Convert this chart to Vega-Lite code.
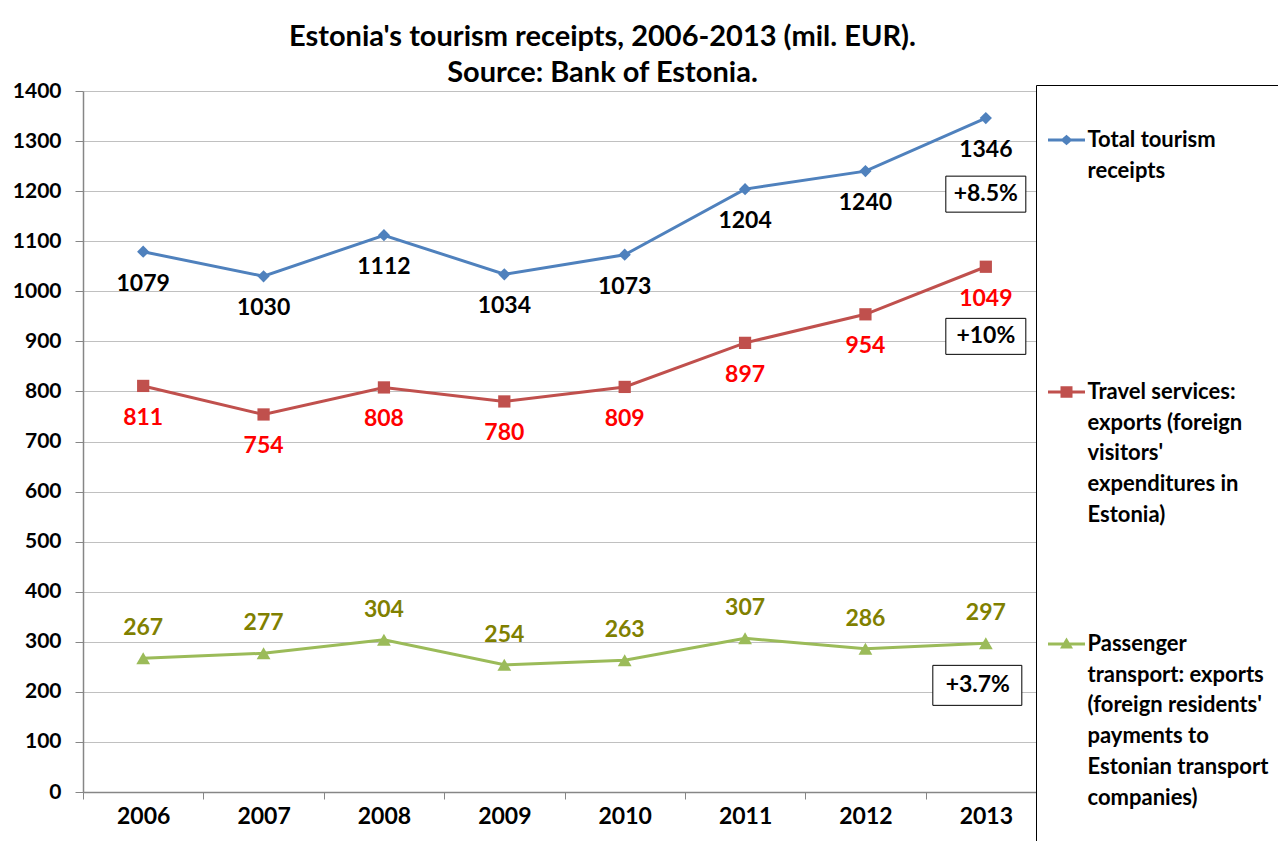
{
  "$schema": "https://vega.github.io/schema/vega-lite/v6.json",
  "width": 963,
  "height": 701,
  "autosize": {"type": "none"},
  "padding": {"left": 83, "top": 91, "right": 232, "bottom": 49},
  "background": "white",
  "config": {
    "font": "Lato",
    "view": {"stroke": null},
    "style": {"guide-label": {"lineHeight": 30.7}}
  },
  "title": {
    "text": ["Estonia's tourism receipts,  2006-2013 (mil. EUR).", "Source: Bank of Estonia."],
    "font": "Lato",
    "fontSize": 29,
    "fontWeight": "bold",
    "color": "black",
    "lineHeight": 36,
    "anchor": "middle",
    "dx": 38,
    "offset": -8
  },
  "data": {
    "values": [
      {"year": "2006", "series": "Total tourism receipts", "value": 1079},
      {"year": "2007", "series": "Total tourism receipts", "value": 1030},
      {"year": "2008", "series": "Total tourism receipts", "value": 1112},
      {"year": "2009", "series": "Total tourism receipts", "value": 1034},
      {"year": "2010", "series": "Total tourism receipts", "value": 1073},
      {"year": "2011", "series": "Total tourism receipts", "value": 1204},
      {"year": "2012", "series": "Total tourism receipts", "value": 1240},
      {"year": "2013", "series": "Total tourism receipts", "value": 1346},
      {"year": "2006", "series": "Travel services: exports (foreign visitors' expenditures in Estonia)", "value": 811},
      {"year": "2007", "series": "Travel services: exports (foreign visitors' expenditures in Estonia)", "value": 754},
      {"year": "2008", "series": "Travel services: exports (foreign visitors' expenditures in Estonia)", "value": 808},
      {"year": "2009", "series": "Travel services: exports (foreign visitors' expenditures in Estonia)", "value": 780},
      {"year": "2010", "series": "Travel services: exports (foreign visitors' expenditures in Estonia)", "value": 809},
      {"year": "2011", "series": "Travel services: exports (foreign visitors' expenditures in Estonia)", "value": 897},
      {"year": "2012", "series": "Travel services: exports (foreign visitors' expenditures in Estonia)", "value": 954},
      {"year": "2013", "series": "Travel services: exports (foreign visitors' expenditures in Estonia)", "value": 1049},
      {"year": "2006", "series": "Passenger transport: exports (foreign residents' payments to Estonian transport companies)", "value": 267},
      {"year": "2007", "series": "Passenger transport: exports (foreign residents' payments to Estonian transport companies)", "value": 277},
      {"year": "2008", "series": "Passenger transport: exports (foreign residents' payments to Estonian transport companies)", "value": 304},
      {"year": "2009", "series": "Passenger transport: exports (foreign residents' payments to Estonian transport companies)", "value": 254},
      {"year": "2010", "series": "Passenger transport: exports (foreign residents' payments to Estonian transport companies)", "value": 263},
      {"year": "2011", "series": "Passenger transport: exports (foreign residents' payments to Estonian transport companies)", "value": 307},
      {"year": "2012", "series": "Passenger transport: exports (foreign residents' payments to Estonian transport companies)", "value": 286},
      {"year": "2013", "series": "Passenger transport: exports (foreign residents' payments to Estonian transport companies)", "value": 297}
    ]
  },
  "encoding": {
    "x": {
      "field": "year",
      "type": "ordinal",
      "scale": {"type": "band", "paddingInner": 0, "paddingOuter": 0},
      "axis": {
        "title": null,
        "labelAngle": 0,
        "labelFont": "Lato",
        "labelFontSize": 23,
        "labelFontWeight": "bold",
        "labelColor": "black",
        "tickBand": "extent",
        "tickSize": 7,
        "tickColor": "#868686",
        "domainColor": "#868686",
        "domainWidth": 1.5,
        "labelPadding": 6,
        "grid": false
      }
    },
    "y": {
      "field": "value",
      "type": "quantitative",
      "scale": {"domain": [0, 1400], "nice": false},
      "axis": {
        "title": null,
        "format": "d",
        "values": [0, 100, 200, 300, 400, 500, 600, 700, 800, 900, 1000, 1100, 1200, 1300, 1400],
        "labelFont": "Lato",
        "labelFontSize": 21,
        "labelFontWeight": "bold",
        "labelColor": "black",
        "tickSize": 8,
        "tickColor": "#868686",
        "domainColor": "#868686",
        "domainWidth": 1.5,
        "gridColor": "#c0c0c0",
        "labelPadding": 14
      }
    }
  },
  "layer": [
    {
      "transform": [{"filter": {"field": "series", "equal": "Total tourism receipts"}}],
      "layer": [
        {"mark": {"type": "line", "strokeWidth": 3, "color": "#4F81BD"}},
        {"mark": {"type": "point", "shape": "diamond", "filled": true, "size": 150, "opacity": 1, "color": "#4F81BD"}},
        {
          "mark": {"type": "text", "font": "Lato", "fontSize": 23, "fontWeight": "bold", "color": "black", "dy": 32, "baseline": "middle"},
          "encoding": {"text": {"field": "value", "type": "quantitative"}}
        }
      ]
    },
    {
      "transform": [{"filter": {"field": "series", "equal": "Travel services: exports (foreign visitors' expenditures in Estonia)"}}],
      "layer": [
        {"mark": {"type": "line", "strokeWidth": 3, "color": "#C0504D"}},
        {"mark": {"type": "point", "shape": "square", "filled": true, "size": 150, "opacity": 1, "color": "#C0504D"}},
        {
          "mark": {"type": "text", "font": "Lato", "fontSize": 23, "fontWeight": "bold", "color": "#FF0000", "dy": 32, "baseline": "middle"},
          "encoding": {"text": {"field": "value", "type": "quantitative"}}
        }
      ]
    },
    {
      "transform": [{"filter": {"field": "series", "equal": "Passenger transport: exports (foreign residents' payments to Estonian transport companies)"}}],
      "layer": [
        {"mark": {"type": "line", "strokeWidth": 3, "color": "#9BBB59"}},
        {"mark": {"type": "point", "shape": "triangle-up", "filled": true, "size": 190, "opacity": 1, "color": "#9BBB59"}},
        {
          "mark": {"type": "text", "font": "Lato", "fontSize": 23, "fontWeight": "bold", "color": "#808000", "dy": -30, "baseline": "middle"},
          "encoding": {"text": {"field": "value", "type": "quantitative"}}
        }
      ]
    },
    {
      "mark": {"type": "point", "filled": true, "opacity": 0},
      "encoding": {
        "color": {
          "field": "series",
          "type": "nominal",
          "scale": {
            "domain": [
              "Total tourism receipts",
              "Travel services: exports (foreign visitors' expenditures in Estonia)",
              "Passenger transport: exports (foreign residents' payments to Estonian transport companies)"
            ],
            "range": ["#4F81BD", "#C0504D", "#9BBB59"]
          },
          "legend": {
            "orient": "none",
            "legendX": 953,
            "legendY": -6,
            "title": " ",
            "titleFontSize": 10,
            "titlePadding": 22,
            "padding": 12,
            "strokeColor": "black",
            "fillColor": "white",
            "rowPadding": 107,
            "symbolSize": 100,
            "symbolStrokeWidth": 0,
            "symbolOpacity": 1,
            "symbolOffset": 7.5,
            "labelOffset": 10,
            "labelLimit": 500,
            "labelFont": "Lato",
            "labelFontSize": 22,
            "labelFontWeight": "bold",
            "labelColor": "black",
            "labelExpr": "indexof(datum.value, 'Total') == 0 ? ['Total tourism', 'receipts', ' ', ' ', ' '] : indexof(datum.value, 'Travel') == 0 ? ['Travel services:', 'exports (foreign', \"visitors'\", 'expenditures in', 'Estonia)'] : ['Passenger', 'transport: exports', \"(foreign residents'\", 'payments to', 'Estonian transport', 'companies)', ' ']"
          }
        },
        "shape": {
          "field": "series",
          "type": "nominal",
          "scale": {
            "domain": [
              "Total tourism receipts",
              "Travel services: exports (foreign visitors' expenditures in Estonia)",
              "Passenger transport: exports (foreign residents' payments to Estonian transport companies)"
            ],
            "range": [
              "M-3.7,-0.3H3.7V0.3H-3.7Z M-1.2,0L0,-1.05L1.2,0L0,1.05Z",
              "M-3.7,-0.3H3.7V0.3H-3.7Z M-1.2,-1.15H1.2V1.15H-1.2Z",
              "M-3.7,-0.3H3.7V0.3H-3.7Z M-1.3,0.9L0,-1.3L1.3,0.9Z"
            ]
          },
          "legend": {
            "orient": "none",
            "legendX": 953,
            "legendY": -6,
            "title": " ",
            "titleFontSize": 10,
            "titlePadding": 22,
            "padding": 12,
            "strokeColor": "black",
            "fillColor": "white",
            "rowPadding": 107,
            "symbolSize": 100,
            "symbolStrokeWidth": 0,
            "symbolOpacity": 1,
            "symbolOffset": 7.5,
            "labelOffset": 10,
            "labelLimit": 500,
            "labelFont": "Lato",
            "labelFontSize": 22,
            "labelFontWeight": "bold",
            "labelColor": "black",
            "labelExpr": "indexof(datum.value, 'Total') == 0 ? ['Total tourism', 'receipts', ' ', ' ', ' '] : indexof(datum.value, 'Travel') == 0 ? ['Travel services:', 'exports (foreign', \"visitors'\", 'expenditures in', 'Estonia)'] : ['Passenger', 'transport: exports', \"(foreign residents'\", 'payments to', 'Estonian transport', 'companies)', ' ']"
          }
        }
      }
    },
    {
      "data": {
        "values": [
          {"year": "2013", "value": 1194, "label": "+8.5%"},
          {"year": "2013", "value": 910, "label": "+10%"},
          {"year": "2013", "value": 213, "label": "+3.7%"}
        ]
      },
      "layer": [
        {
          "transform": [{"filter": "datum.label != '+3.7%'"}],
          "mark": {"type": "point", "shape": "M-4,-1.8H4V1.8H-4Z", "size": 400, "filled": true, "fill": "white", "stroke": "black", "strokeWidth": 1, "opacity": 1}
        },
        {
          "transform": [{"filter": "datum.label == '+3.7%'"}],
          "mark": {"type": "point", "shape": "M-5.3,-2H3.6V2H-5.3Z", "size": 400, "filled": true, "fill": "white", "stroke": "black", "strokeWidth": 1, "opacity": 1}
        },
        {
          "transform": [{"filter": "datum.label != '+3.7%'"}],
          "mark": {"type": "text", "font": "Lato", "fontSize": 23, "fontWeight": "bold", "color": "black", "baseline": "middle"},
          "encoding": {"text": {"field": "label"}}
        },
        {
          "transform": [{"filter": "datum.label == '+3.7%'"}],
          "mark": {"type": "text", "font": "Lato", "fontSize": 23, "fontWeight": "bold", "color": "black", "baseline": "middle", "dx": -8},
          "encoding": {"text": {"field": "label"}}
        }
      ]
    }
  ]
}
